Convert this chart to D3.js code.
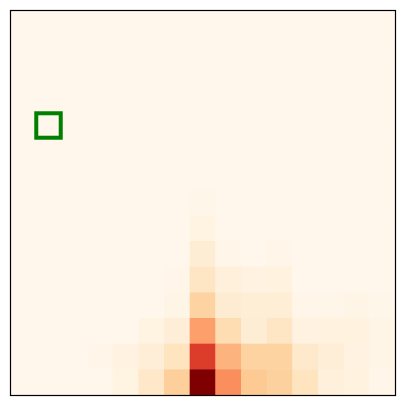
<!DOCTYPE html>
<html><head><meta charset="utf-8">
<script src="https://cdn.jsdelivr.net/npm/d3@7"></script>
<style>html,body{margin:0;padding:0;background:#fff;}</style>
</head><body>
<svg id="chart" width="405" height="405"></svg>
<script>
const cols = d3.range(15);
const rows = d3.range(15);
const values = [
  [0,0,0,0,0,0,0,0,0,0,0,0,0,0,0],
  [0,0,0,0,0,0,0,0,0,0,0,0,0,0,0],
  [0,0,0,0,0,0,0,0,0,0,0,0,0,0,0],
  [0,0,0,0,0,0,0,0,0,0,0,0,0,0,0],
  [0,0,0,0,0,0,0,0,0,0,0,0,0,0,0],
  [0,0,0,0,0,0,0,0,0,0,0,0,0,0,0],
  [0,0,0,0,0,0,0,0,0,0,0,0,0,0,0],
  [0,0,0,0,0,0,0,0.008,0,0,0,0,0,0,0],
  [0,0,0,0,0,0,0,0.035,0,0,0,0,0,0,0],
  [0,0,0,0,0,0,0,0.08,0.01,0.004,0.012,0,0,0,0],
  [0,0,0,0,0,0,0.015,0.13,0.06,0.04,0.045,0,0,0,0],
  [0,0,0,0,0,0,0.018,0.25,0.09,0.075,0.075,0.012,0.008,0.018,0.008],
  [0,0,0,0,0,0.035,0.07,0.45,0.19,0.08,0.13,0.04,0.045,0.045,0.02],
  [0,0,0,0.015,0.04,0.07,0.15,0.72,0.39,0.25,0.25,0.11,0.07,0.04,0.018],
  [0,0,0,0,0.035,0.12,0.27,1.0,0.5,0.3,0.26,0.15,0.06,0.045,0.012]
];
const highlight = {col: 1, row: 4};

const svg = d3.select("#chart");
const mLeft = 10, mTop = 10, size = 385;
const x = d3.scaleBand().domain(cols).range([mLeft, mLeft + size]);
const y = d3.scaleBand().domain(rows).range([mTop, mTop + size]);
const color = d3.scaleSequential(d3.interpolateOrRd).domain([0, 1]);

const cells = [];
rows.forEach(r => cols.forEach(c => cells.push({r, c, v: values[r][c]})));

svg.append("g").selectAll("rect").data(cells).join("rect")
  .attr("x", d => x(d.c)).attr("y", d => y(d.r))
  .attr("width", x.bandwidth() + 0.5).attr("height", y.bandwidth() + 0.5)
  .attr("fill", d => color(d.v));

svg.append("rect")
  .attr("x", x(highlight.col) + 0.6).attr("y", y(highlight.row) + 0.6)
  .attr("width", x.bandwidth() - 1.2).attr("height", y.bandwidth() - 1.2)
  .attr("fill", "none").attr("stroke", "#008000").attr("stroke-width", 4);

svg.append("rect")
  .attr("x", mLeft + 0.5).attr("y", mTop + 0.5).attr("width", size).attr("height", size)
  .attr("fill", "none").attr("stroke", "#000").attr("stroke-width", 1.2);
</script>
</body></html>
